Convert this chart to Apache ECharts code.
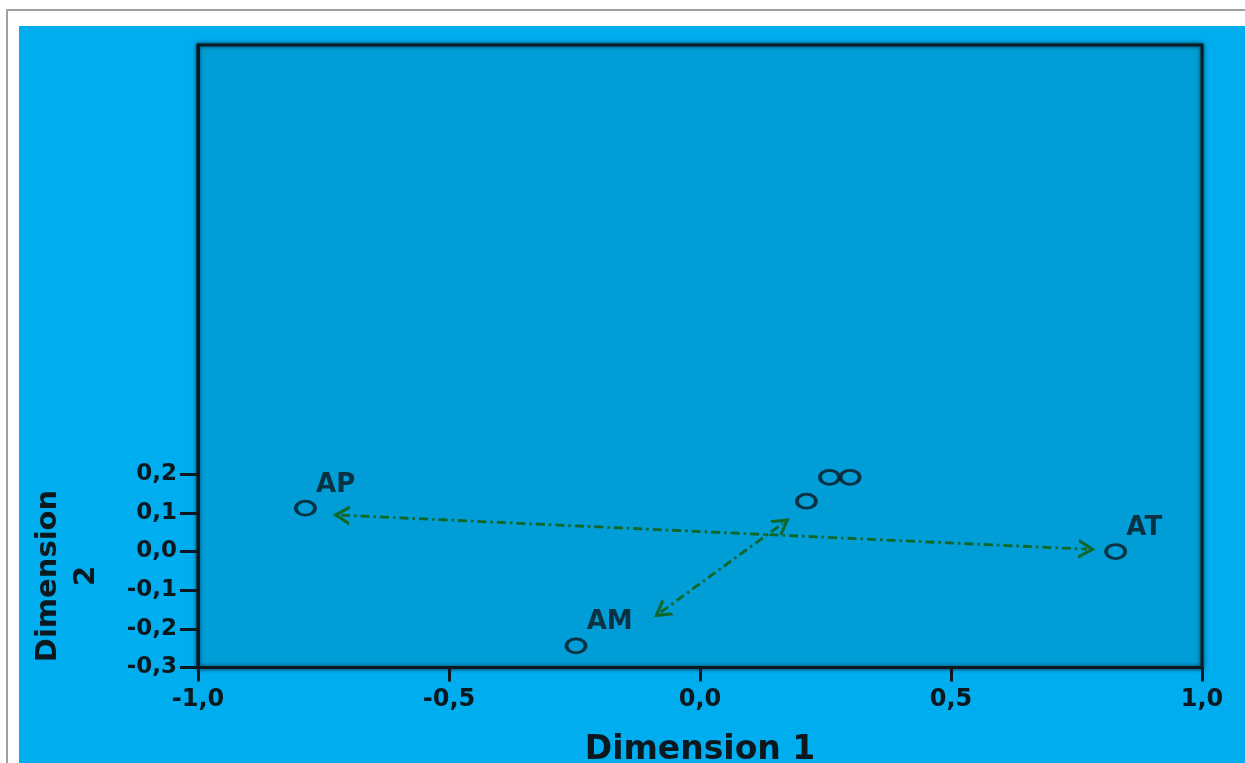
<!DOCTYPE html>
<html>
<head>
<meta charset="utf-8">
<script src="https://cdn.jsdelivr.net/npm/echarts@6/dist/echarts.min.js"></script>
<style>
  html, body { margin: 0; padding: 0; background: #ffffff; width: 1245px; height: 763px; overflow: hidden; }
  #frame { position: absolute; left: 6px; top: 9px; width: 1239px; height: 754px; border-top: 2px solid #a0a0a0; border-left: 2px solid #a0a0a0; }
  #chart { position: absolute; left: 19px; top: 26px; width: 1226px; height: 737px; }
</style>
</head>
<body>
<div id="frame"></div>
<div id="chart"></div>
<script>
// ---- data ----
const labeledNames = ['AP', 'AM', 'AT'];
const labeledX = [-0.786, -0.247, 0.828];
const labeledY = [0.112, -0.244, 0.000];
const unlabeledX = [0.212, 0.258, 0.299];
const unlabeledY = [0.130, 0.192, 0.192];
// double-headed arrows: [x1, y1, x2, y2]
const arrowAPAT = [-0.715, 0.094, 0.771, 0.006];
const arrowAM = [-0.078, -0.157, 0.165, 0.073];
const xTicks = [-1.0, -0.5, 0.0, 0.5, 1.0];
const yTicks = [-0.3, -0.2, -0.1, 0.0, 0.1, 0.2];
const xTitle = 'Dimension 1';
const yTitle = 'Dimension\n2';

const ink = '#0d181e';
const green = '#10672a';
const fmt = v => (Math.round(v * 10) / 10).toFixed(1).replace('.', ',');
const arrowPath = 'path://M0,18 L10,0 L20,18 L16.5,18 L10,6.5 L3.5,18 Z';

const chart = echarts.init(document.getElementById('chart'), null, { renderer: 'canvas' });
chart.setOption({
  backgroundColor: '#00adee',
  animation: false,
  grid: {
    left: 179, right: 43, top: 19, bottom: 95.5,
    containLabel: false,
    outerBoundsMode: 'none',
    show: true,
    backgroundColor: '#009dd6',
    borderColor: '#0b1c24',
    borderWidth: 3,
    shadowColor: 'rgba(0,0,0,0.6)',
    shadowBlur: 4
  },
  graphic: [
    {
      type: 'text',
      x: 48,
      y: 550,
      rotation: Math.PI / 2,
      style: {
        text: yTitle,
        fontFamily: 'DejaVu Sans', fontWeight: 'bold', fontSize: 29, lineHeight: 38,
        fill: ink, align: 'center', verticalAlign: 'middle'
      }
    }
  ],
  xAxis: {
    type: 'value',
    min: -1.0, max: 1.0, interval: 0.5,
    name: xTitle,
    nameLocation: 'middle',
    nameGap: 66,
    nameTextStyle: { fontFamily: 'DejaVu Sans', fontWeight: 'bold', fontSize: 33, color: ink },
    axisLine: { show: true, onZero: false, lineStyle: { color: ink, width: 3 } },
    axisTick: { show: true, length: 14, lineStyle: { color: ink, width: 3 } },
    axisLabel: { show: true, margin: 20, formatter: fmt, fontFamily: 'DejaVu Sans', fontWeight: 'bold', fontSize: 24, color: ink },
    splitLine: { show: false }
  },
  yAxis: {
    type: 'value',
    min: -0.3, max: 1.31, interval: 0.1,
    axisLine: { show: true, onZero: false, lineStyle: { color: ink, width: 3 } },
    axisTick: { show: true, length: 18, customValues: yTicks, lineStyle: { color: ink, width: 3 } },
    axisLabel: { show: true, margin: 21, customValues: yTicks, formatter: fmt, fontFamily: 'DejaVu Sans', fontWeight: 'bold', fontSize: 23, color: ink },
    splitLine: { show: false }
  },
  series: [
    {
      type: 'scatter',
      name: 'labeled',
      symbol: 'circle',
      symbolSize: [19, 14],
      itemStyle: { color: 'rgba(0,0,0,0)', borderColor: ink, borderWidth: 3.2 },
      data: labeledX.map((x, i) => ({ value: [x, labeledY[i]], name: labeledNames[i] })),
      label: {
        show: true,
        formatter: p => p.name,
        position: [22, -2],
        align: 'left',
        verticalAlign: 'bottom',
        fontFamily: 'DejaVu Sans', fontWeight: 'bold', fontSize: 26, color: ink
      },
      markLine: {
        silent: true,
        symbol: [arrowPath, arrowPath],
        symbolSize: [20, 17],
        label: { show: false },
        lineStyle: { color: green, width: 2.8, type: [9, 4, 2.5, 4] },
        data: [
          [{ coord: [arrowAPAT[0], arrowAPAT[1]] }, { coord: [arrowAPAT[2], arrowAPAT[3]] }],
          [{ coord: [arrowAM[0], arrowAM[1]] }, { coord: [arrowAM[2], arrowAM[3]] }]
        ]
      },
      z: 3
    },
    {
      type: 'scatter',
      name: 'unlabeled',
      symbol: 'circle',
      symbolSize: [19, 14],
      itemStyle: { color: 'rgba(0,0,0,0)', borderColor: ink, borderWidth: 3.2 },
      data: unlabeledX.map((x, i) => [x, unlabeledY[i]]),
      z: 3
    }
  ]
});
</script>
</body>
</html>
